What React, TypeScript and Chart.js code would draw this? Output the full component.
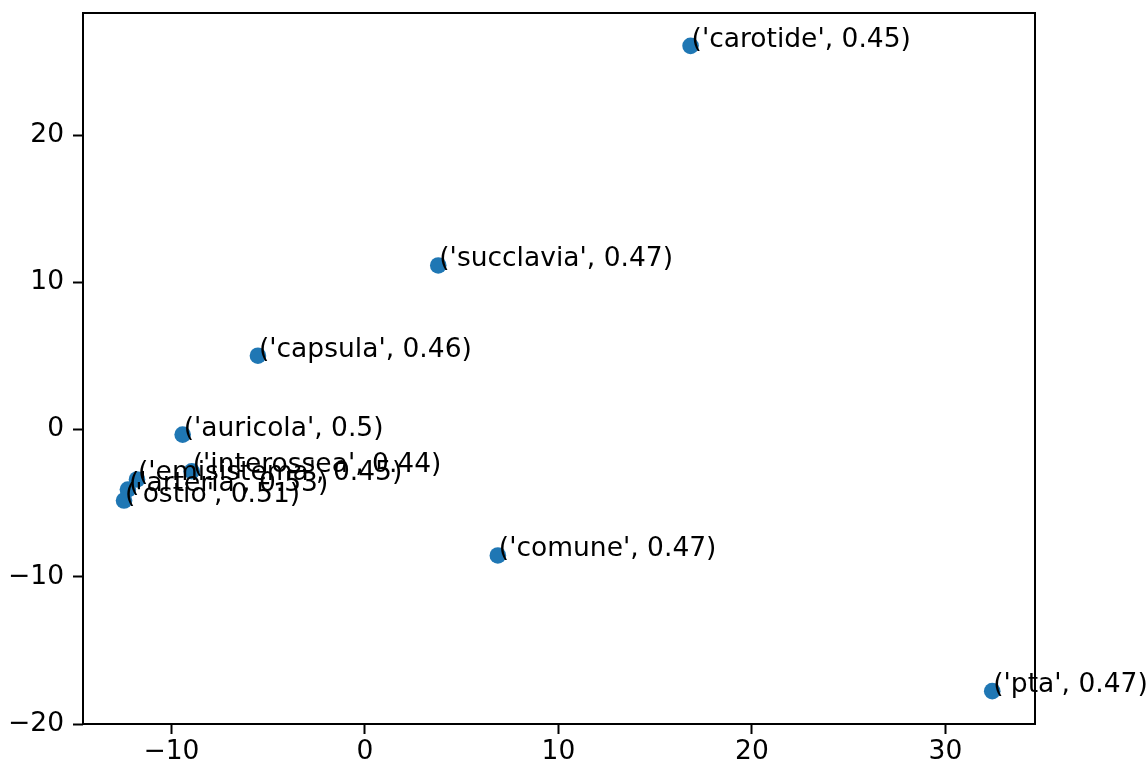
import React, { useEffect, useRef } from "react";
import { Chart, registerables } from "chart.js";

Chart.register(...registerables);

const words = ["carotide", "succlavia", "capsula", "auricola", "interossea", "emisistema", "arteria", "ostio", "comune", "pta"];
const scores = ["0.45", "0.47", "0.46", "0.5", "0.44", "0.45", "0.53", "0.51", "0.47", "0.47"];
const xValues = [16.83, 3.79, -5.53, -9.42, -8.95, -11.78, -12.25, -12.45, 6.87, 32.42];
const yValues = [26.07, 11.15, 5.02, -0.34, -2.83, -3.39, -4.07, -4.82, -8.55, -17.77];
const xTicks = [-10, 0, 10, 20, 30];
const yTicks = [-20, -10, 0, 10, 20];

const FONT = "DejaVu Sans";
const FS = 26.5;

const fmt = (v: number) => (v < 0 ? "\u2212" + Math.abs(v) : String(v));

const framePlugin = {
  id: "frame",
  afterDraw(chart: any) {
    const { ctx, chartArea } = chart;
    ctx.save();
    ctx.strokeStyle = "#000";
    ctx.lineWidth = 2;
    ctx.strokeRect(chartArea.left, chartArea.top, chartArea.right - chartArea.left, chartArea.bottom - chartArea.top);
    ctx.restore();
  },
};

const labelPlugin = {
  id: "annot",
  afterDatasetsDraw(chart: any) {
    const { ctx } = chart;
    const xs = chart.scales.x;
    const ys = chart.scales.y;
    ctx.save();
    ctx.fillStyle = "#000";
    ctx.font = `${FS}px "${FONT}"`;
    ctx.textAlign = "left";
    ctx.textBaseline = "alphabetic";
    words.forEach((w, i) => {
      const px = xs.getPixelForValue(xValues[i]);
      const py = ys.getPixelForValue(yValues[i]);
      ctx.fillText(`('${w}', ${scores[i]})`, px + 1, py + 1);
    });
    ctx.restore();
  },
};

export default function App() {
  const ref = useRef<HTMLCanvasElement>(null);
  useEffect(() => {
    document.body.style.margin = "0";
    const chart = new Chart(ref.current as HTMLCanvasElement, {
      type: "scatter",
      data: {
        datasets: [
          {
            data: xValues.map((x, i) => ({ x, y: yValues[i] })),
            backgroundColor: "#1f77b4",
            borderWidth: 0,
            pointRadius: 8.3,
            pointHoverRadius: 8.3,
          },
        ],
      },
      options: {
        animation: false,
        responsive: false,
        devicePixelRatio: 1,
        layout: { padding: { top: 13, right: 113, left: 0, bottom: 0 } },
        plugins: { legend: { display: false }, tooltip: { enabled: false } },
        events: [],
        scales: {
          x: {
            type: "linear",
            min: -14.57,
            max: 34.63,
            afterBuildTicks: (s: any) => {
              s.ticks = xTicks.map((v) => ({ value: v }));
            },
            afterFit: (s: any) => {
              s.height = 41;
              s.paddingLeft = 0;
              s.paddingRight = 0;
            },
            grid: { drawOnChartArea: false, drawTicks: true, tickLength: 10, tickWidth: 2, tickColor: "#000" },
            border: { display: false },
            ticks: {
              color: "#000",
              font: { family: FONT, size: FS },
              padding: 2,
              maxRotation: 0,
              autoSkip: false,
              callback: (v: any) => fmt(Number(v)),
            },
          },
          y: {
            type: "linear",
            min: -20,
            max: 28.3,
            afterBuildTicks: (s: any) => {
              s.ticks = yTicks.map((v) => ({ value: v }));
            },
            afterFit: (s: any) => {
              s.width = 83;
              s.paddingTop = 0;
              s.paddingBottom = 0;
            },
            grid: { drawOnChartArea: false, drawTicks: true, tickLength: 10, tickWidth: 2, tickColor: "#000" },
            border: { display: false },
            ticks: {
              color: "#000",
              font: { family: FONT, size: FS },
              padding: 9,
              autoSkip: false,
              callback: (v: any) => fmt(Number(v)),
            },
          },
        },
      },
      plugins: [framePlugin, labelPlugin],
    });
    return () => chart.destroy();
  }, []);
  return <canvas ref={ref} width={1148} height={765} style={{ display: "block" }} />;
}
